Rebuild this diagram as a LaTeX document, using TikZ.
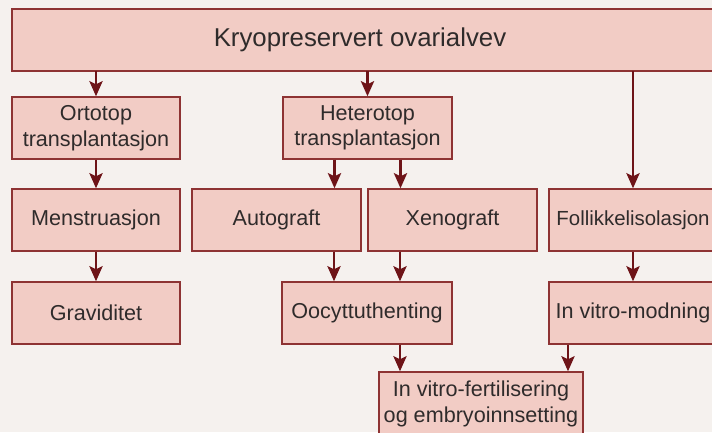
\documentclass[tikz,border=0pt]{standalone}
\usepackage{fontspec}
\setmainfont{Liberation Sans}
\usetikzlibrary{arrows.meta}

\definecolor{bgpaper}{HTML}{F5F1EE}
\definecolor{boxfill}{HTML}{F2CCC5}
\definecolor{boxline}{HTML}{8E3333}
\definecolor{arrowred}{HTML}{6E1418}
\definecolor{textgrey}{HTML}{2F2B2B}

\begin{document}
\begin{tikzpicture}[x=1pt,y=-1pt,
  box/.style={draw=boxline, fill=boxfill, line width=1.4pt, minimum width=168pt,
    minimum height=62pt, inner sep=0pt, align=center, text=textgrey,
    font=\fontsize{21.6}{25.5}\selectfont},
  flow/.style={draw=arrowred, line width=2.8pt,
    -{Stealth[length=15pt,width=13pt,inset=3pt]}}]
\useasboundingbox (0,0) rectangle (712,432);
\clip (0,0) rectangle (712,432);
\fill[bgpaper] (0,0) rectangle (712,432);

% top row
\draw[draw=boxline, fill=boxfill, line width=1.4pt] (12,9) rectangle (740,71);
\node[inner sep=0pt, minimum height=62pt, text=textgrey,
  font=\fontsize{25.8}{30}\selectfont] (kryo) at (360,40) {Kryopreservert ovarialvev};

\node[box] (orto) at (96,128) {Ortotop\\transplantasjon};
\node[box, minimum width=169pt] (hetero) at (367.5,128) {Heterotop\\transplantasjon};

\node[box] (mens) at (96,220) {Menstruasjon};
\node[box, minimum width=169pt] (auto) at (276.5,220) {Autograft};
\node[box, minimum width=169pt] (xeno) at (452.5,220) {Xenograft};
\node[box, font=\fontsize{20.4}{25.5}\selectfont] (folli) at (633,220) {Follikkelisolasjon};

\node[box] (grav) at (96,313) {Graviditet};
\node[box, minimum width=170pt] (oocyt) at (367,313) {Oocyttuthenting};
\node[box] (modn) at (633,313) {In vitro-modning};

\node[box, minimum width=204pt, minimum height=64pt] (ivf) at (481,404)
  {In vitro-fertilisering\\og embryoinnsetting};

% arrows
\draw[flow] (orto |- kryo.south) -- (orto);
\draw[flow] (hetero |- kryo.south) -- (hetero);
\draw[flow] (folli |- kryo.south) -- (folli);
\draw[flow] (orto) -- (mens);
\draw[flow] (mens) -- (grav);
\draw[flow] ([xshift=-33pt]hetero.south) -- ([xshift=-33pt]hetero.south |- auto.north);
\draw[flow] ([xshift=33pt]hetero.south) -- ([xshift=33pt]hetero.south |- xeno.north);
\draw[flow] ([xshift=-33pt]oocyt.north |- auto.south) -- ([xshift=-33pt]oocyt.north);
\draw[flow] ([xshift=33pt]oocyt.north |- xeno.south) -- ([xshift=33pt]oocyt.north);
\draw[flow] (folli) -- (modn);
\draw[flow] ([xshift=33pt]oocyt.south) -- ([xshift=33pt]oocyt.south |- ivf.north);
\draw[flow] ([xshift=-65pt]modn.south) -- ([xshift=-65pt]modn.south |- ivf.north);
\end{tikzpicture}
\end{document}
